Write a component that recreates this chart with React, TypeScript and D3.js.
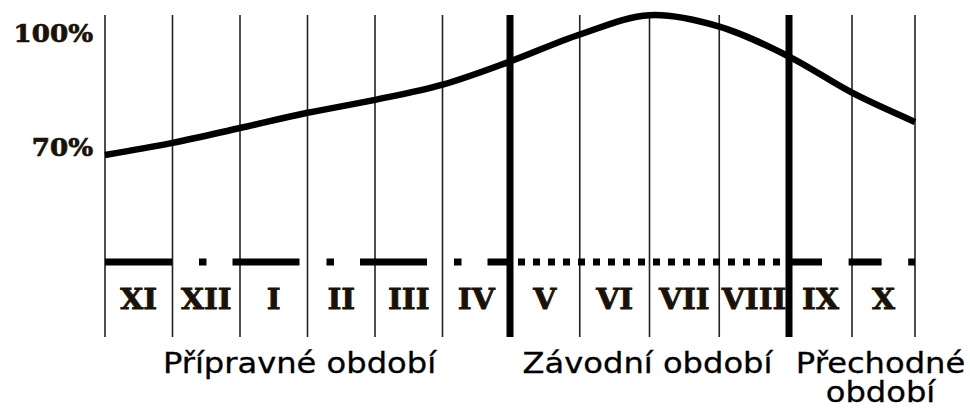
import React from "react";
import * as d3 from "d3";

// ---- data ----
const months = ["XI", "XII", "I", "II", "III", "IV", "V", "VI", "VII", "VIII", "IX", "X"];
// relative training load (%) at each month boundary (13 points)
const loadValues = [67.9, 71.1, 75.0, 79.0, 82.4, 86.4, 92.5, 99.6, 104.7, 101.7, 93.8, 84.3, 76.6];
const yTicks = [70, 100];
const periodNames = [["Přípravné období"], ["Závodní období"], ["Přechodné", "období"]];
const periodStarts = [0, 6, 10];
const periodEnds = [6, 10, 12];
const periodPatterns = ["dashdot", "dotted", "dashed"];

// ---- layout ----
const W = 970;
const H = 410;
const gridTop = 15;
const gridBottom = 337;
const barY = 262;
const monthY = 309;
const periodY = 373;
const lineGap = 29;
const labelDx = [-8, -2, 28.5];
const dashes: Record<string, { arr: string; off: number }> = {
  dashdot: { arr: "67 27 7.5 26", off: 0 },
  dotted: { arr: "7 8", off: 7 },
  dashed: { arr: "33 26.6", off: 0 },
};

export default function App() {
  const x = d3
    .scaleLinear()
    .domain([0, periodStarts[1], periodStarts[2], months.length])
    .range([105, 510, 789, 915]);
  const y = d3.scaleLinear().domain([70, 100]).range([147, 33]);

  const line = d3
    .line<number>()
    .x((_, i) => x(i))
    .y((d) => y(d))
    .curve(d3.curveCatmullRom.alpha(0.5));

  const bounds = d3.range(months.length + 1);
  const thick = new Set(periodStarts.slice(1));

  return (
    <svg
      width={W}
      height={H}
      style={{ position: "absolute", left: 0, top: 0, background: "#fff" }}
    >
      {/* vertical month grid */}
      {bounds.map((b) => (
        <line
          key={"g" + b}
          x1={x(b)}
          x2={x(b)}
          y1={gridTop}
          y2={gridBottom}
          stroke={thick.has(b) ? "#000" : "#222"}
          strokeWidth={thick.has(b) ? 7 : 1.6}
        />
      ))}

      {/* period pattern bar */}
      {periodStarts.map((s, i) => (
        <line
          key={"p" + i}
          x1={x(s)}
          x2={x(periodEnds[i])}
          y1={barY}
          y2={barY}
          stroke="#000"
          strokeWidth={7}
          strokeDasharray={dashes[periodPatterns[i]].arr}
          strokeDashoffset={dashes[periodPatterns[i]].off}
        />
      ))}

      {/* load curve */}
      <path d={line(loadValues) || ""} fill="none" stroke="#000" strokeWidth={6.5} strokeLinecap="butt" />

      {/* y tick labels */}
      {yTicks.map((t) => (
        <text
          key={"t" + t}
          transform={`translate(93,${y(t) + 8.5}) scale(1.09,1)`}
          textAnchor="end"
          fontFamily="DejaVu Serif"
          fontWeight="bold"
          fontSize={24}
          fill="#1a1208"
          stroke="#1a1208"
          strokeWidth={0.7}
        >
          {t}%
        </text>
      ))}

      {/* month labels */}
      {months.map((m, i) => (
        <text
          key={"m" + i}
          transform={`translate(${(x(i) + x(i + 1)) / 2},${monthY}) scale(1.04,1)`}
          textAnchor="middle"
          fontFamily="DejaVu Serif"
          fontWeight="bold"
          fontSize={28.5}
          fill="#1a1208"
          stroke="#1a1208"
          strokeWidth={0.8}
        >
          {m}
        </text>
      ))}

      {/* period labels */}
      {periodNames.map((lines, i) => (
        <g key={"n" + i}>
          {lines.map((ln, j) => (
            <text
              key={j}
              transform={`translate(${(x(periodStarts[i]) + x(periodEnds[i])) / 2 + labelDx[i]},${
                periodY + j * lineGap
              }) scale(1.17,1)`}
              textAnchor="middle"
              fontFamily="DejaVu Sans"
              fontSize={27.5}
              fill="#000"
              stroke="#000"
              strokeWidth={0.3}
            >
              {ln}
            </text>
          ))}
        </g>
      ))}
    </svg>
  );
}
